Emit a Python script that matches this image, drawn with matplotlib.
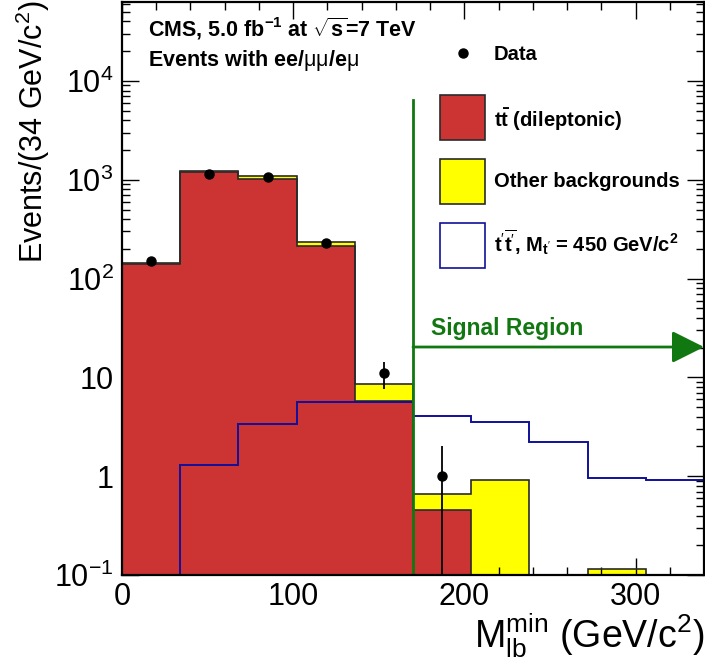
import numpy as np
import matplotlib
matplotlib.use('Agg')
import matplotlib.pyplot as plt
from matplotlib.patches import Rectangle
from matplotlib.lines import Line2D
from matplotlib.ticker import FixedLocator, MultipleLocator, NullFormatter

# ---------------- data ----------------
bin_edges = [0, 34, 68, 102, 136, 170, 204, 238, 272, 306, 340]
ttbar = [141, 1185, 1023, 216, 5.75, 0.45, 0, 0, 0, 0]
other_bkg = [4, 37, 57, 17, 2.8, 0.215, 0.91, 0, 0.116, 0]
signal_tprime = [0, 1.3, 3.4, 5.6, 5.6, 4.06, 3.56, 2.2, 0.95, 0.91]
data_x = [17, 51, 85, 119, 153, 187]
data_y = [152, 1150, 1070, 231, 11, 1]
data_err_lo = [12, 34, 33, 15, 3.3, 0.999]
data_err_hi = [13, 35, 34, 16, 3.4, 1.0]
ytick_vals = [0.1, 1, 10, 100, 1000, 10000]
ytick_labels = [r'$10^{-1}$', '1', '10', r'$10^{2}$', r'$10^{3}$', r'$10^{4}$']
xtick_vals = [0, 100, 200, 300]
cut_value = 170

plt.rcParams['font.family'] = ['Liberation Sans', 'DejaVu Sans']
plt.rcParams['mathtext.fontset'] = 'custom'
plt.rcParams['mathtext.rm'] = 'Liberation Sans'
plt.rcParams['mathtext.it'] = 'Liberation Sans:italic'
plt.rcParams['mathtext.bf'] = 'Liberation Sans:bold'
plt.rcParams['mathtext.sf'] = 'Liberation Sans'

W, H = 705, 662
fig = plt.figure(figsize=(W / 100, H / 100), dpi=100)

def fx(x):
    return x / W

def fy(y):
    return 1 - y / H

ax = fig.add_axes([fx(122), fy(575), (704 - 122) / W, (575 - 2) / H])
ax.set_yscale('log')
ax.set_xlim(0, 340)
ax.set_ylim(0.1, 6.3e4)

edges = np.array(bin_edges, dtype=float)
tt = np.array(ttbar, dtype=float)
tot = tt + np.array(other_bkg, dtype=float)
sig = np.array(signal_tprime, dtype=float)
low = 1e-3

RED = '#cc3333'
YEL = '#ffff00'
BLUE = '#10109a'
GREEN = '#117711'
EDGE = '#2a2a2a'

# fills
ax.bar(edges[:-1], np.where(tot > 0, tot - low, 0), width=np.diff(edges), bottom=low,
       align='edge', color=YEL, linewidth=0, zorder=1)
ax.bar(edges[:-1], np.where(tt > 0, tt - low, 0), width=np.diff(edges), bottom=low,
       align='edge', color=RED, linewidth=0, zorder=2)
# outlines
ax.stairs(np.where(tot > 0, tot, low), edges, baseline=low, color=EDGE, lw=1.2, zorder=3)
ax.stairs(np.where(tt > 0, tt, low), edges, baseline=low, color=EDGE, lw=1.2, zorder=3)
# signal
ax.stairs(np.where(sig > 0, sig, low), edges, baseline=low, color=BLUE, lw=1.4, zorder=4)

# data
ax.errorbar(data_x, data_y, yerr=[data_err_lo, data_err_hi], fmt='o', color='black',
            ms=6.5, elinewidth=1.3, capsize=0, zorder=6)

# signal region line and arrow
ax.plot([cut_value, cut_value], [low, 6430], color=GREEN, lw=2, zorder=5, clip_on=True)
ax.annotate('', xy=(340, 20.3), xytext=(cut_value, 20.3),
            arrowprops=dict(arrowstyle='-|>,head_length=0.9,head_width=0.45', color=GREEN,
                            lw=2, shrinkA=0, shrinkB=0, mutation_scale=22),
            annotation_clip=False, zorder=5)
fig.text(fx(431), fy(335), 'Signal Region', color=GREEN, fontsize=16.5, fontweight='bold',
         ha='left', va='baseline')

# ticks
ax.yaxis.set_major_locator(FixedLocator(ytick_vals))
ax.set_yticklabels(ytick_labels)
ax.yaxis.set_minor_locator(FixedLocator(
    [m * 10.0 ** e for e in range(-1, 5) for m in range(2, 10)]))
ax.yaxis.set_minor_formatter(NullFormatter())
ax.xaxis.set_major_locator(FixedLocator(xtick_vals))
ax.xaxis.set_minor_locator(MultipleLocator(20))
ax.tick_params(which='both', direction='in', top=True, right=True, width=1.0, color='black')
ax.tick_params(which='major', length=12, labelsize=22)
ax.tick_params(axis='y', which='major', pad=6)
ax.tick_params(axis='x', which='major', pad=5)
ax.tick_params(which='minor', length=6)
for s in ax.spines.values():
    s.set_linewidth(1.6)
    s.set_zorder(10)

# axis titles
fig.text(fx(704), fy(647), r'M$_{\mathrm{lb}}^{\mathrm{min}}$ (GeV/c$^{2}$)', fontsize=27,
         ha='right', va='baseline')
fig.text(fx(33), fy(1), r'Events/(34 GeV/c$^{2}$)', fontsize=22, rotation=90,
         ha='center', va='top')

# top text
fig.text(fx(148), fy(37), r'CMS, 5.0 fb$^{\mathbf{-1}}$ at $\sqrt{\mathbf{s}}$=7 TeV',
         fontsize=15.5, fontweight='bold', ha='left', va='baseline')
fig.text(fx(148), fy(66), r'Events with ee/$\mathrm{\mu\mu}$/e$\mathrm{\mu}$',
         fontsize=15.5, fontweight='bold', ha='left', va='baseline')

# legend (manual)
fig.add_artist(Line2D([fx(463)], [fy(53)], marker='o', color='black', ms=6.5,
                      transform=fig.transFigure))
fig.text(fx(494), fy(60), 'Data', fontsize=14.5, fontweight='bold', ha='left', va='baseline')
boxes = [(95, RED, EDGE, r'$\mathbf{t\bar{t}}$ (dileptonic)', 127),
         (159, YEL, EDGE, 'Other backgrounds', 187),
         (223, 'white', BLUE, r"$\mathbf{t}'\overline{\mathbf{t}'}$, M$_{\mathbf{t}'}$ = 450 GeV/c$^{\mathbf{2}}$", 252)]
for ytop, fc, ec, lab, yb in boxes:
    fig.add_artist(Rectangle((fx(440), fy(ytop + 45)), 45 / W, 45 / H, facecolor=fc,
                             edgecolor=ec, lw=1.2, transform=fig.transFigure))
    fig.text(fx(494), fy(yb), lab, fontsize=14.5, fontweight='bold', ha='left', va='baseline')

fig.savefig('out.png', dpi=100)
